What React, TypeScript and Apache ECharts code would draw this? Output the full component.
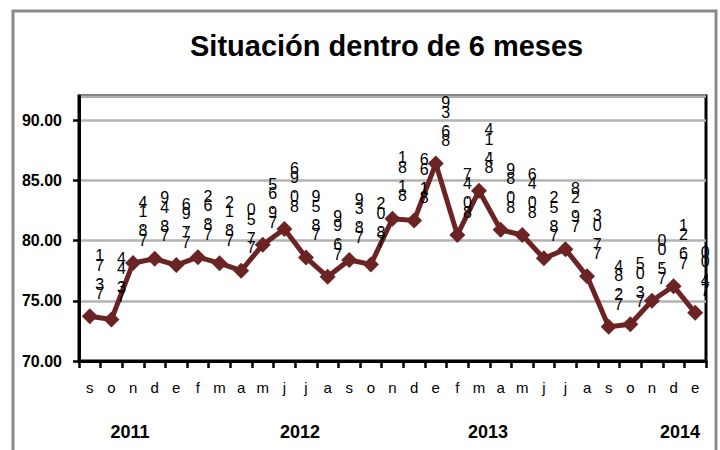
import React, { useEffect, useRef } from "react";
import * as echarts from "echarts";

// ---- data ----
const months = ["s","o","n","d","e","f","m","a","m","j","j","a","s","o","n","d","e","f","m","a","m","j","j","a","s","o","n","d","e"];
const values = [73.71, 73.44, 78.14, 78.49, 77.96, 78.62, 78.12, 77.5, 79.65, 80.96, 78.59, 76.99, 78.39, 78.02, 81.81, 81.66, 86.39, 80.47, 84.14, 80.89, 80.46, 78.52, 79.28, 77.03, 72.84, 73.05, 75.0, 76.21, 74.0];
const years = ["2011", "2012", "2013", "2014"];
const title = "Situación dentro de 6 meses";

// ---- layout (not data) ----
const YEAR_X = [130, 300, 488, 680];
const FONT = "'Liberation Sans', Arial, sans-serif";
const LINE_COLOR = "#6b2323";

export default function App() {
  const ref = useRef<HTMLDivElement>(null);
  useEffect(() => {
    if (!ref.current) return;
    const chart = echarts.init(ref.current, null, { renderer: "svg" });
    const option: any = {
      animation: false,
      backgroundColor: "#fff",
      title: {
        text: title,
        left: 185,
        top: 26,
        textStyle: { fontFamily: FONT, fontSize: 29, fontWeight: "bold", color: "#000" },
      },
      grid: {
        left: 79, top: 96, width: 627, height: 265,
        show: true, borderColor: "#000", borderWidth: 3, backgroundColor: "transparent",
      },
      xAxis: {
        type: "category",
        data: months,
        boundaryGap: true,
        axisLine: { show: true, lineStyle: { color: "#000", width: 3 } },
        axisTick: { show: true, interval: 0, length: 7, lineStyle: { color: "#000", width: 2.5 } },
        axisLabel: { interval: 0, margin: 19, fontFamily: FONT, fontSize: 15, color: "#000" },
        splitLine: { show: false },
      },
      yAxis: {
        type: "value",
        min: 70, max: 92, interval: 5,
        axisLine: { show: true, lineStyle: { color: "#000", width: 3 } },
        axisTick: { show: true, length: 6, lineStyle: { color: "#000", width: 2.5 } },
        axisLabel: {
          showMaxLabel: false,
          margin: 17,
          fontFamily: FONT, fontSize: 16, fontWeight: "bold", color: "#000",
          formatter: (v: number) => (v === 92 ? "" : v.toFixed(2)),
        },
        splitLine: { show: true, lineStyle: { color: "#b3b3b3", width: 2.5 } },
      },
      series: [
        {
          type: "line",
          data: values,
          symbol: "diamond",
          symbolSize: 16,
          lineStyle: { color: LINE_COLOR, width: 5 },
          itemStyle: { color: LINE_COLOR },
          label: {
            show: true,
            position: "top",
            distance: 10,
            offset: [10, 0],
            fontFamily: FONT,
            fontSize: 16,
            lineHeight: 9.5,
            color: "#000",
            formatter: (p: any) => Number(p.value).toFixed(2).split("").reverse().join("\n"),
          },
          z: 5,
        },
      ],
      graphic: [
        {
          type: "rect",
          shape: { x: 13, y: 11, width: 703, height: 470 },
          style: { fill: "none", stroke: "#8a8a8a", lineWidth: 3 },
          silent: true,
          z: 100,
        },
        ...years.map((y, i) => ({
          type: "text",
          x: YEAR_X[i],
          y: 432,
          style: {
            text: y,
            fontFamily: FONT,
            fontSize: 18,
            fontWeight: "bold",
            fill: "#000",
            align: "center",
            verticalAlign: "middle",
          },
        })),
      ],
    };
    chart.setOption(option);
    return () => chart.dispose();
  }, []);
  return <div ref={ref} style={{ position: "fixed", left: 0, top: 0, width: 720, height: 450 }} />;
}
